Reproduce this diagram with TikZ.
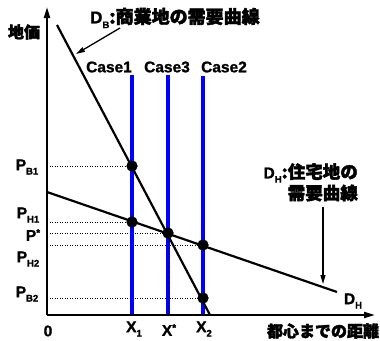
\documentclass[tikz,border=0pt]{standalone}
\usepackage{fontspec}
\setmainfont{Liberation Sans}[BoldFeatures={FakeBold=1.2}]
\newfontfamily\jp{Noto Sans CJK JP}[FakeBold=2.2]
\usetikzlibrary{arrows.meta}
\newcommand{\lowidx}[1]{\raisebox{-0.28em}{\fontsize{9.5}{9.5}\selectfont #1}}
\begin{document}
\begin{tikzpicture}[x=1pt,y=-1pt,
  lbl/.style={font=\bfseries\fontsize{15.5}{15.5}\selectfont, inner sep=0pt},
  jlbl/.style={font=\bfseries\jp\fontsize{16}{16}\selectfont, inner sep=0pt},
  dotline/.style={line width=0.9pt, dash pattern=on 1pt off 1.5pt},
  caseline/.style={blue, line width=3.8pt},
  curve/.style={line width=2.2pt},
  axis/.style={line width=2pt, -{Triangle[length=11pt,width=6pt]}},
  dot/.style={circle, fill=black, inner sep=0pt, minimum size=11pt}]
\useasboundingbox (0,0) rectangle (380,340);
% points
\coordinate (O) at (47,315);
\coordinate (ytip) at (47,7);
\coordinate (xtip) at (375,315);
\coordinate (dbs) at (57,25);
\coordinate (dbe) at (210,315);
\coordinate (dhs) at (47,192);
\coordinate (dhe) at (337,292);
% y positions on axis
\coordinate (yb1) at (47,166);
\coordinate (yh1) at (47,222);
\coordinate (ys) at (47,233);
\coordinate (yh2) at (47,245);
\coordinate (yb2) at (47,298);
% intersection points
\node[dot] (pb1) at (132,166) {};
\node[dot] (ph1) at (132,222) {};
\node[dot] (ps) at (168,233) {};
\node[dot] (ph2) at (203,245) {};
\node[dot] (pb2) at (203,298) {};
% blue case lines
\coordinate (c1t) at (132,75);
\coordinate (c1b) at (132,315);
\coordinate (c3t) at (168,75);
\coordinate (c3b) at (168,315);
\coordinate (c2t) at (203,76);
\coordinate (c2b) at (203,315);
% dotted lines
\draw[dotline] (yb1) -- (pb1.center);
\draw[dotline] (yh1) -- (ph1.center);
\draw[dotline] (ys) -- (ps.center);
\draw[dotline] (yh2) -- (ph2.center);
\draw[dotline] (yb2) -- (pb2.center);
\draw[caseline] (c1t) -- (c1b);
\draw[caseline] (c3t) -- (c3b);
\draw[caseline] (c2t) -- (c2b);
\draw[dotline] (ps.center) -- (c3b);
% demand curves
\draw[curve] (dbs) -- (dbe);
\draw[curve] (dhs) -- (dhe);
% dots on top
\node[dot] at (pb1) {};
\node[dot] at (ph1) {};
\node[dot] at (ps) {};
\node[dot] at (ph2) {};
\node[dot] at (pb2) {};
% axes
\draw[axis] (O) -- (ytip);
\draw[axis] (O) -- (xtip);
% labels
\node[jlbl] (yl) at (24,32) {地価};
\node[lbl, anchor=west, font=\bfseries\fontsize{17}{17}\selectfont] (title) at (90,18) {D\lowidx{B}{\jp\fontsize{18}{18}\selectfont :商業地の需要曲線}};
\node[lbl] (case1) at (109,67) {Case1};
\node[lbl] (case3) at (167,67) {Case3};
\node[lbl] (case2) at (224,67) {Case2};
\coordinate (ta1) at (120,28);
\coordinate (ta2) at (76,54);
\draw[line width=1.3pt, -{Triangle[length=9pt,width=5pt]}] (ta1) -- (ta2);
\node[lbl, anchor=east] (dh1) at (358,173) {D\lowidx{H}{\jp\fontsize{17.5}{17.5}\selectfont :住宅地の}};
\node[jlbl, anchor=east, font=\bfseries\jp\fontsize{17.5}{17.5}\selectfont] (dh2) at (358,193) {需要曲線};
\coordinate (ha1) at (323,207);
\coordinate (ha2) at (323,284);
\draw[line width=1.3pt, -{Triangle[length=9pt,width=5pt]}] (ha1) -- (ha2);
\node[lbl] (dhend) at (353,301) {D\lowidx{H}};
\node[jlbl] (xl) at (323,331) {都心までの距離};
\node[lbl] (zero) at (48,331) {0};
\node[lbl] (x1) at (134,329) {X\lowidx{1}};
\node[lbl] (xs) at (169,330) {X\raisebox{0.3em}{\fontsize{10}{10}\selectfont *}};
\node[lbl] (x2) at (204,329) {X\lowidx{2}};
\node[lbl] (lpb1) at (27,167) {P\lowidx{B1}};
\node[lbl] (lph1) at (28,215) {P\lowidx{H1}};
\node[lbl] (lps) at (33,235) {P\raisebox{0.3em}{\fontsize{10}{10}\selectfont *}};
\node[lbl] (lph2) at (28,259) {P\lowidx{H2}};
\node[lbl] (lpb2) at (27,294) {P\lowidx{B2}};
\end{tikzpicture}
\end{document}
